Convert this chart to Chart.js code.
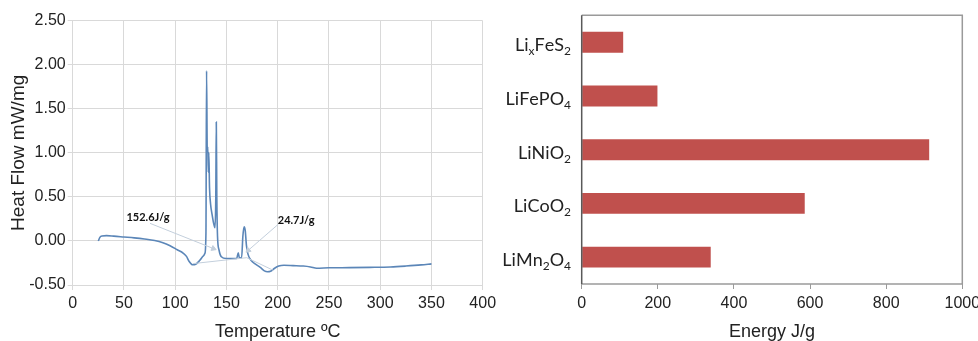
<!DOCTYPE html>
<html>
<head>
<meta charset="utf-8">
<script src="https://cdn.jsdelivr.net/npm/chart.js@4"></script>
<style>
	html, body { margin: 0; padding: 0; background: #fff; overflow: hidden; }
	.wrap { position: relative; width: 978px; height: 341px; }
	.dsc { position: absolute; left: 0; top: 0; width: 510px; height: 341px; }
	.energy { position: absolute; left: 490px; top: 0; width: 500px; height: 341px; }
</style>
</head>
<body>
<div class="wrap">
	<div class="dsc"><canvas id="dscChart"></canvas></div>
	<div class="energy"><canvas id="energyChart"></canvas></div>
</div>
<script>
// DSC curve
const tempC = [25, 26.5, 28.5, 33, 40, 50, 60, 70, 80, 88, 95, 102, 108, 111, 113.5, 117, 120, 124, 127.5, 129, 130, 130.6, 131.3, 131.8, 132.3, 132.8, 133.5, 134.5, 136, 137.5, 138.8, 139.6, 140.1, 140.6, 141.3, 142.7, 145, 150, 160, 161.5, 162.6, 164.8, 166, 167.2, 168.3, 169.5, 171, 174, 178, 183, 187, 190, 193, 197, 201, 206, 215, 225, 232, 238, 250, 270, 290, 310, 325, 340, 350];
const heatFlow = [0.0, 0.04, 0.057, 0.06, 0.055, 0.045, 0.035, 0.022, 0.005, -0.02, -0.055, -0.1, -0.14, -0.175, -0.23, -0.27, -0.265, -0.22, -0.17, -0.14, 0.09, 1.93, 1.0, 1.07, 0.78, 1.0, 0.6, 0.42, 0.3, 0.2, 0.15, 0.5, 1.35, 0.5, 0.05, -0.1, -0.18, -0.2, -0.2, -0.135, -0.19, -0.19, 0.05, 0.16, 0.12, -0.05, -0.15, -0.22, -0.26, -0.3, -0.34, -0.35, -0.345, -0.31, -0.285, -0.276, -0.28, -0.285, -0.295, -0.31, -0.305, -0.303, -0.3, -0.295, -0.285, -0.272, -0.26];

// integration baselines and annotation pointers
const baseTemp = [117.6, 169.8, 195.7];
const baseFlow = [-0.257, -0.19, -0.333];
const arrow1Temp = [75.4, 137.2];
const arrow1Flow = [0.2, -0.086];
const arrow2Temp = [200.6, 171.3];
const arrow2Flow = [0.19, -0.106];
const noteText = ["152.6J/g", "24.7J/g"];
const noteTemp = [73.5, 218];
const noteFlow = [0.27, 0.235];

// Energy bars
const materials = ["LiₓFeS₂", "LiFePO₄", "LiNiO₂", "LiCoO₂", "LiMn₂O₄"];
const energy = [109, 199, 913, 586, 339];

const toPoints = (xs, ys) => xs.map((x, i) => ({ x: x, y: ys[i] }));

const tickFont = { family: "'Liberation Sans', Arial, sans-serif", size: 16 };
const titleFont = { family: "'Liberation Sans', Arial, sans-serif", size: 18, lineHeight: 1 };
const textColor = "#222";

const notesPlugin = {
	id: "notes",
	afterDatasetsDraw(chart) {
		const ctx = chart.ctx;
		ctx.save();
		ctx.font = "bold 11px Lato, 'Liberation Sans', sans-serif";
		ctx.fillStyle = "#111";
		ctx.textAlign = "center";
		ctx.textBaseline = "middle";
		noteText.forEach((t, i) => {
			const px = chart.scales.x.getPixelForValue(noteTemp[i]);
			const py = chart.scales.y.getPixelForValue(noteFlow[i]);
			ctx.fillText(t, px, py);
		});
		ctx.restore();
	},
};

const pointerLine = (xs, ys, rot) => ({
	data: toPoints(xs, ys),
	borderColor: "#c3cfdc",
	backgroundColor: "#c3cfdc",
	borderWidth: 1,
	pointRadius: [0, 3],
	pointStyle: "triangle",
	rotation: rot,
	tension: 0,
});

new Chart(document.getElementById("dscChart"), {
	type: "line",
	data: {
		datasets: [
			{
				data: toPoints(baseTemp, baseFlow),
				borderColor: "#c3cfdc",
				borderWidth: 1,
				pointRadius: 0,
				tension: 0,
			},
			pointerLine(arrow1Temp, arrow1Flow, 111.8),
			pointerLine(arrow2Temp, arrow2Flow, 229),
			{
				data: toPoints(tempC, heatFlow),
				borderColor: "#5b86b8",
				borderWidth: 1.6,
				pointRadius: 0,
				cubicInterpolationMode: "monotone",
			},
		],
	},
	options: {
		responsive: true,
		maintainAspectRatio: false,
		animation: false,
		layout: { padding: { left: 0, right: 27.3, top: 20.7, bottom: 0 } },
		plugins: { legend: { display: false }, tooltip: { enabled: false } },
		scales: {
			x: {
				type: "linear",
				min: 0,
				max: 400,
				ticks: { stepSize: 50, font: tickFont, color: textColor, padding: 4, maxRotation: 0 },
				grid: { color: "#d9d9d9", tickLength: 5 },
				border: { color: "#d9d9d9" },
				title: { display: true, text: "Temperature ºC", font: titleFont, color: textColor, padding: { top: 0, bottom: 0 } },
				afterFit: (s) => { s.height = 56; },
			},
			y: {
				min: -0.5,
				max: 2.5,
				ticks: { stepSize: 0.5, font: tickFont, color: textColor, padding: 2, callback: (v) => v.toFixed(2) },
				grid: { color: "#d9d9d9", tickLength: 5 },
				border: { color: "#d9d9d9" },
				title: { display: true, text: "Heat Flow mW/mg", font: { family: tickFont.family, size: 19, lineHeight: 1.2 }, color: textColor, padding: { top: 7.6, bottom: 0 } },
				afterFit: (s) => { s.width = 72.7; },
			},
		},
	},
	plugins: [notesPlugin],
});

// draw the formula labels with proper subscripts
const subMap = { "₀": "0", "₁": "1", "₂": "2", "₃": "3", "₄": "4", "ₓ": "x" };
const formulaLabels = {
	id: "formulaLabels",
	afterDraw(chart) {
		const ctx = chart.ctx;
		const yScale = chart.scales.y;
		const right = chart.chartArea.left - 10.7;
		const mainFont = "18px Lato, 'Open Sans', sans-serif";
		const subFont = "12px Lato, 'Open Sans', sans-serif";
		ctx.save();
		ctx.fillStyle = textColor;
		ctx.textAlign = "left";
		ctx.textBaseline = "alphabetic";
		materials.forEach((label, i) => {
			const parts = [...label].map((ch) => (subMap[ch] ? { t: subMap[ch], sub: true } : { t: ch, sub: false }));
			let width = 0;
			parts.forEach((p) => {
				ctx.font = p.sub ? subFont : mainFont;
				p.w = ctx.measureText(p.t).width;
				width += p.w;
			});
			let x = right - width;
			const base = yScale.getPixelForValue(i) + 9;
			parts.forEach((p) => {
				ctx.font = p.sub ? subFont : mainFont;
				ctx.fillText(p.t, x, p.sub ? base + 4 : base);
				x += p.w;
			});
		});
		ctx.restore();
	},
};

const boxBorder = {
	id: "boxBorder",
	afterDatasetsDraw(chart) {
		const { left, right, top, bottom } = chart.chartArea;
		const ctx = chart.ctx;
		ctx.save();
		ctx.lineWidth = 1.5;
		ctx.strokeStyle = "#9a9a9a";
		ctx.beginPath();
		ctx.moveTo(left, top);
		ctx.lineTo(right, top);
		ctx.lineTo(right, bottom);
		ctx.lineTo(left, bottom);
		ctx.stroke();
		ctx.strokeStyle = "#595959";
		ctx.beginPath();
		ctx.moveTo(left, top);
		ctx.lineTo(left, bottom);
		ctx.stroke();
		ctx.restore();
	},
};

new Chart(document.getElementById("energyChart"), {
	type: "bar",
	data: {
		labels: materials,
		datasets: [
			{
				data: energy,
				backgroundColor: "#c0504d",
				barPercentage: 0.39,
				categoryPercentage: 1,
			},
		],
	},
	options: {
		indexAxis: "y",
		responsive: true,
		maintainAspectRatio: false,
		animation: false,
		layout: { padding: { left: 0, right: 27.7, top: 15.3, bottom: 0 } },
		plugins: { legend: { display: false }, tooltip: { enabled: false } },
		scales: {
			x: {
				min: 0,
				max: 1000,
				ticks: { stepSize: 200, font: tickFont, color: textColor, padding: 5, maxRotation: 0, callback: (v) => String(v) },
				grid: { drawOnChartArea: false, color: "#9a9a9a", tickLength: 5 },
				border: { display: false },
				title: { display: true, text: "Energy J/g", font: titleFont, color: textColor, padding: { top: 0, bottom: 0 } },
				afterFit: (s) => { s.height = 57; },
			},
			y: {
				ticks: { display: false },
				grid: { display: false },
				border: { display: false },
				afterFit: (s) => { s.width = 91.7; },
			},
		},
	},
	plugins: [formulaLabels, boxBorder],
});
</script>
</body>
</html>
